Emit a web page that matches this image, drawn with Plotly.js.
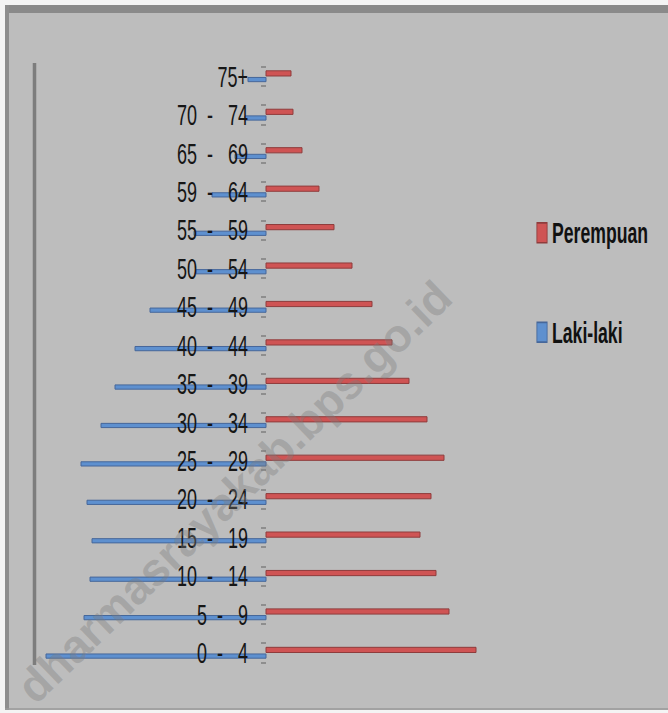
<!DOCTYPE html>
<html>
<head>
<meta charset="utf-8">
<script src="https://cdn.plot.ly/plotly-3.0.1.min.js"></script>
<style>
  html, body { margin: 0; padding: 0; background: #f4f4f4; }
  #chart { width: 668px; height: 713px; }
</style>
</head>
<body>
<div id="chart"></div>
<script>
// Age groups, bottom to top
const ageGroups = ["0 - 4", "5 - 9", "10 - 14", "15 - 19", "20 - 24", "25 - 29",
                   "30 - 34", "35 - 39", "40 - 44", "45 - 49", "50 - 54", "55 - 59",
                   "59 - 64", "65 - 69", "70 - 74", "75+"];
// Estimated values (relative units)
const lakiLaki  = [22.0, 18.2, 17.6, 17.4, 17.9, 18.5, 16.5, 15.1, 13.1, 11.6, 7.0, 7.2, 5.4, 3.1, 2.1, 1.8];
const perempuan = [21.0, 18.3, 17.0, 15.4, 16.5, 17.8, 16.1, 14.3, 12.6, 10.6, 8.6, 6.8, 5.3, 3.6, 2.7, 2.5];

const labelFont = "'Liberation Sans', Arial, sans-serif";
const pos = ageGroups.map((_, i) => i);
const NB = "\u00a0";
const labels = ageGroups.map(s => s.replace(" - ", NB + NB + "-" + NB + NB + NB));

const traces = [
  {
    type: "bar", orientation: "h", name: "Perempuan", legendgroup: "p",
    y: pos, x: perempuan,
    width: 0.135, offset: 0.013,
    marker: { color: "#cf5454", line: { color: "#8f3c3c", width: 1 } },
    hoverinfo: "x+name"
  },
  {
    type: "bar", orientation: "h", name: "Laki-laki", legendgroup: "l",
    y: pos, x: lakiLaki.map(v => -v),
    width: 0.11, offset: -0.135,
    marker: { color: "#5e90cf", line: { color: "#46679a", width: 1 } },
    hoverinfo: "x+name"
  }
];

const minorVals = [];
for (let i = 0; i < ageGroups.length; i++) { minorVals.push(i - 0.25, i + 0.25); }

const layout = {
  width: 668, height: 713,
  margin: { l: 0, r: 0, t: 0, b: 0, autoexpand: false },
  paper_bgcolor: "#f4f4f4",
  plot_bgcolor: "rgba(0,0,0,0)",
  barmode: "overlay",
  showlegend: true,
  xaxis: {
    range: [-26.6, 40.2], domain: [0, 1],
    showgrid: false, zeroline: false, showline: false,
    showticklabels: false, ticks: "", fixedrange: true
  },
  yaxis: {
    range: [-1.561, 16.99], domain: [0, 1],
    anchor: "free", position: 266 / 668, side: "left",
    tickmode: "array", tickvals: pos, ticktext: labels,
    ticks: "", showline: false, showgrid: false, zeroline: false,
    ticklabelstandoff: 18,
    tickfont: { family: labelFont, size: 20, color: "#161616" },
    minor: { tickmode: "array", tickvals: minorVals, ticks: "outside", ticklen: 5, tickwidth: 2, tickcolor: "#8e8e8e", showgrid: false },
    fixedrange: true
  },
  legend: {
    x: 512 / 668, xanchor: "left", y: 0.699, yanchor: "top",
    bgcolor: "rgba(0,0,0,0)",
    traceorder: "grouped", tracegroupgap: 73,
    itemwidth: 30,
    font: { family: labelFont, size: 18, color: "#111111", weight: "bold" }
  },
  shapes: [
    { type: "rect", xref: "paper", yref: "paper", x0: 5 / 668, x1: 1, y0: 1 - 710 / 713, y1: 1 - 5 / 713,
      fillcolor: "#bdbdbd", line: { width: 0 }, layer: "below" },
    { type: "rect", xref: "paper", yref: "paper", x0: 5 / 668, x1: 1, y0: 1 - 13 / 713, y1: 1 - 5 / 713,
      fillcolor: "#8a8a8a", line: { width: 0 }, layer: "below" },
    { type: "rect", xref: "paper", yref: "paper", x0: 5 / 668, x1: 9 / 668, y0: 1 - 710 / 713, y1: 1 - 5 / 713,
      fillcolor: "#8e8e8e", line: { width: 0 }, layer: "below" },
    { type: "line", xref: "paper", yref: "paper", x0: 5 / 668, x1: 1, y0: 1 - 709 / 713, y1: 1 - 709 / 713,
      line: { color: "#9a9a9a", width: 1.5 }, layer: "below" },
    { type: "line", xref: "paper", yref: "paper", x0: 34.5 / 668, x1: 34.5 / 668, y0: 1 - 665 / 713, y1: 1 - 63 / 713,
      line: { color: "#7d7d7d", width: 3.5 }, layer: "below" }
  ],
  annotations: [
    { text: "dharmasrayakab.bps.go.id", xref: "paper", yref: "paper",
      x: 234 / 668, y: 1 - 492 / 713, xanchor: "center", yanchor: "middle",
      showarrow: false, textangle: -44,
      font: { family: labelFont, size: 46, weight: "bold", color: "rgba(125,125,125,0.38)" } }
  ]
};

// The reference's text is tall and narrow; stretch rendered text in place.
function stretch(el, sx, sy, ax, dx) {
  const bb = el.getBBox();
  const cx = ax === "right" ? bb.x + bb.width : ax === "left" ? bb.x : bb.x + bb.width / 2;
  const cy = bb.y + bb.height / 2;
  const tr = el.getAttribute("transform") || "";
  el.setAttribute("transform",
    tr + " translate(" + (dx || 0) + ",0) translate(" + cx + "," + cy + ") scale(" + sx + "," + sy + ") translate(" + (-cx) + "," + (-cy) + ")");
}

Plotly.newPlot("chart", traces, layout, { displayModeBar: false, staticPlot: true }).then(gd => {
  gd.querySelectorAll("g.ytick text").forEach(t => stretch(t, 0.9, 1.45, "right", 0));
  gd.querySelectorAll(".legend .legendtext").forEach(t => stretch(t, 0.98, 1.6, "left", 0));
  gd.querySelectorAll(".legend .legendpoints path").forEach(p => stretch(p, 0.85, 1.65, "center", 10));
});
</script>
</body>
</html>
